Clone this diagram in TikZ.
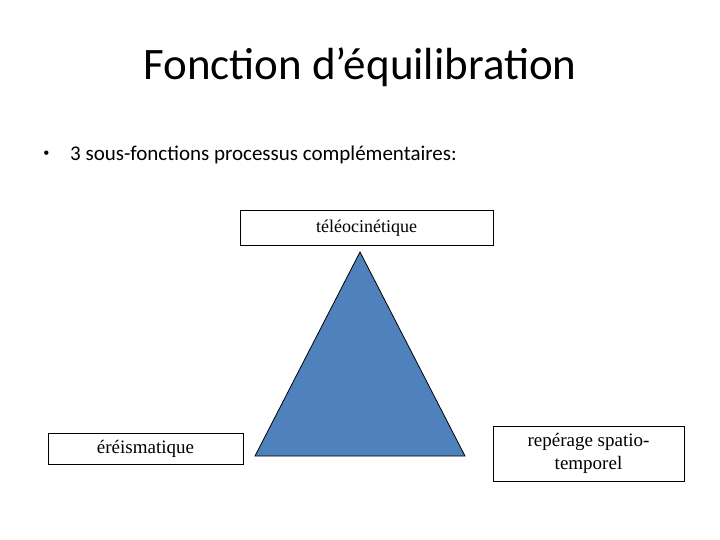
\documentclass[tikz,border=0pt]{standalone}
\usepackage{fontspec}
\setmainfont{Carlito}
\newfontfamily\boxfont{Liberation Serif}
\newfontfamily\bulfont{Liberation Sans}
\begin{document}
\begin{tikzpicture}[x=1pt,y=-1pt,
  lbl/.style={draw=black, line width=0.8pt, align=center, inner sep=0pt},
  tri/.style={draw=black, line width=0.8pt, fill={rgb,255:red,79;green,129;blue,189}}]
\useasboundingbox (0,0) rectangle (720,540);
\node (title) at (360,67) {\fontsize{45}{54}\selectfont Fonction d’équilibration};
\node (bul) at (46.5,155) {\bulfont\fontsize{16}{20}\selectfont •};
\node[anchor=west, inner sep=0pt] (txt) at (70,155) {\fontsize{21}{25}\selectfont 3 sous-fonctions processus complémentaires:};
\node[lbl, font=\boxfont\fontsize{18}{21}\selectfont, minimum width=253pt, minimum height=35pt] (tele) at (366.5,228) {téléocinétique};
\node[lbl, font=\boxfont\fontsize{19}{22}\selectfont, minimum width=195pt, minimum height=31pt] (erei) at (145.5,448.5) {éréismatique};
\node[lbl, font=\boxfont\fontsize{19}{23}\selectfont, minimum width=191pt, minimum height=55pt] (rep) at (588.5,453.5) {repérage spatio-\\temporel};
\coordinate (a) at (360,252);
\coordinate (b) at (255,456);
\coordinate (c) at (465,456);
\draw[tri] (a) -- (b) -- (c) -- cycle;
\end{tikzpicture}
\end{document}
